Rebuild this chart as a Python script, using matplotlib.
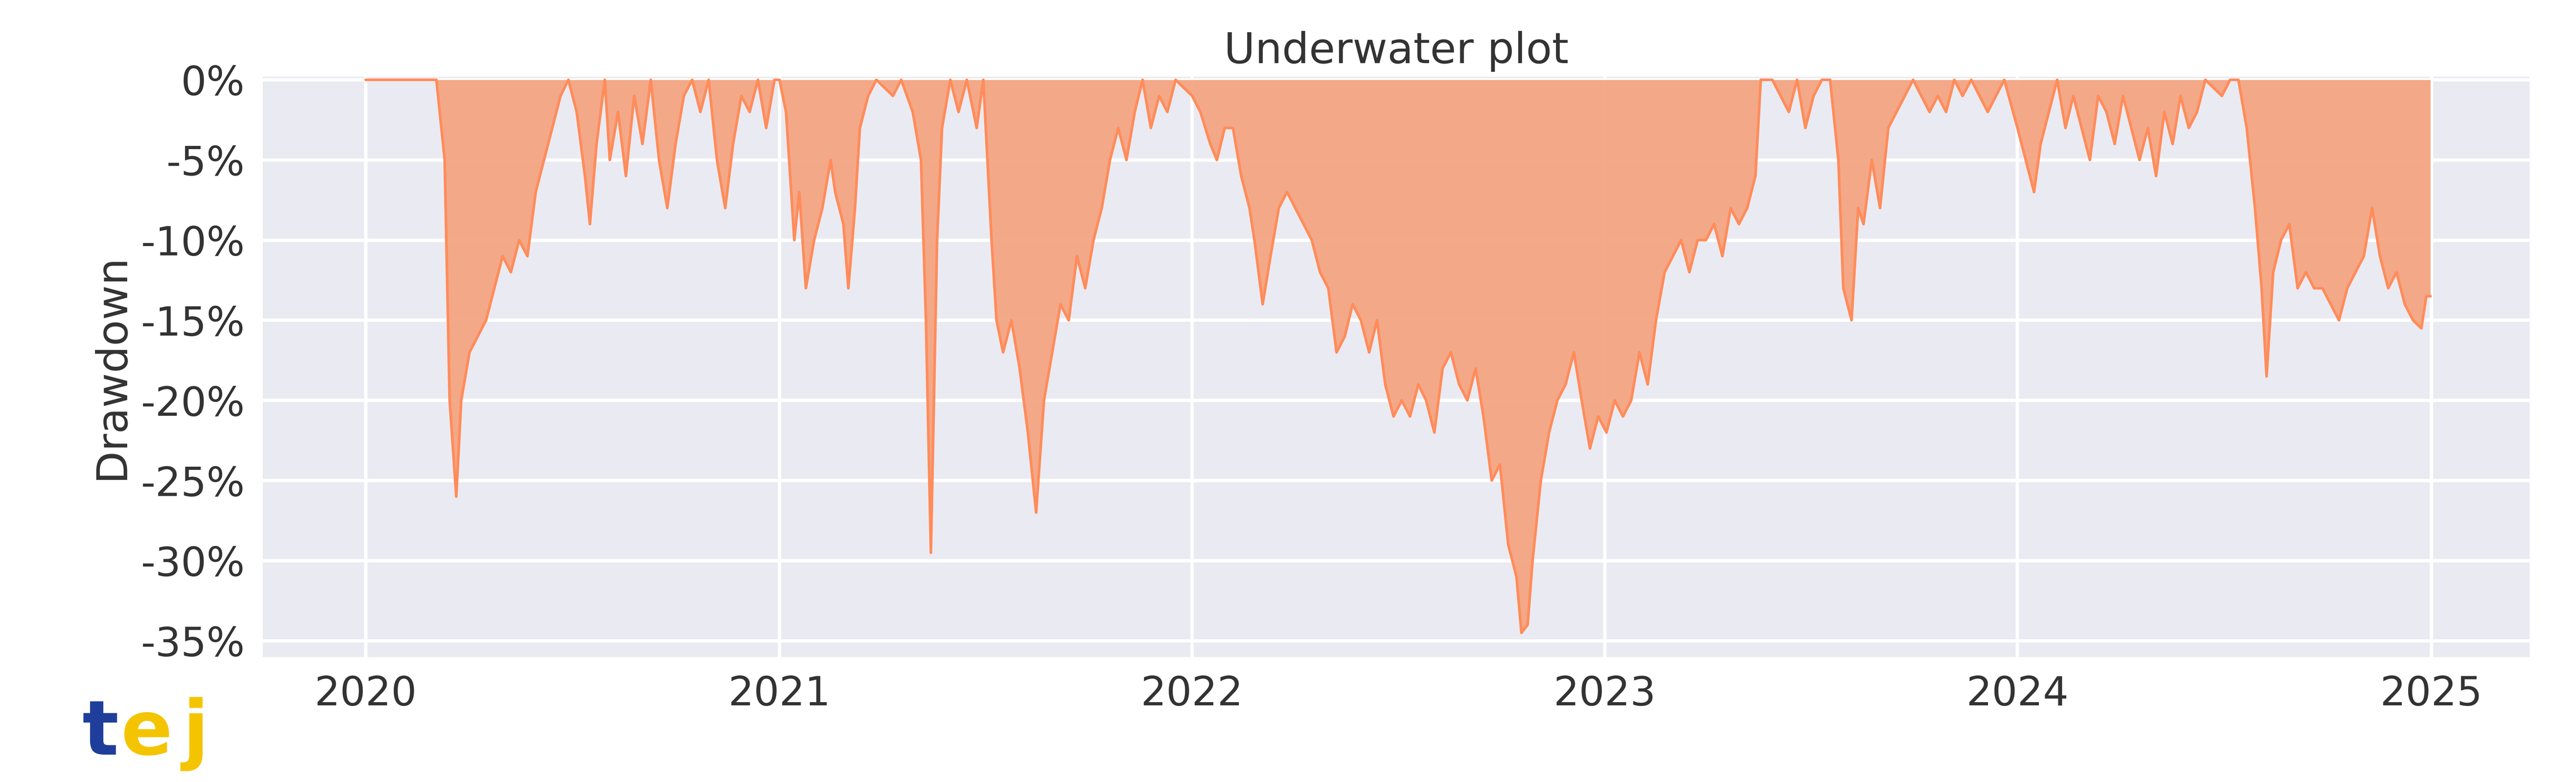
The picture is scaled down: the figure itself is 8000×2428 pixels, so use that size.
import numpy as np
import pandas as pd
import matplotlib.pyplot as plt
import matplotlib.ticker as mticker

plt.style.use("seaborn-v0_8-darkgrid")
plt.rcParams["font.family"] = ["DejaVu Sans"]

# --- drawdown readings: (year, fraction of year, drawdown %) ---
ans_2020 = [0.0, 0.171, 0.191, 0.203, 0.219, 0.231, 0.251, 0.271, 0.291, 0.311, 0.331, 0.351, 0.371, 0.391,
            0.411, 0.431, 0.451, 0.471, 0.490, 0.510, 0.530, 0.542, 0.558, 0.578, 0.590, 0.610, 0.629, 0.649,
            0.669, 0.689, 0.709, 0.729, 0.749, 0.769, 0.789, 0.809, 0.829, 0.849, 0.869, 0.888, 0.908, 0.928,
            0.948, 0.968, 0.988]
dd_2020 = [0, 0, -5, -20, -26, -20, -17, -16, -15, -13, -11, -12, -10, -11,
           -7, -5, -3, -1, 0, -2, -6, -9, -4, 0, -5, -2, -6, -1,
           -4, 0, -5, -8, -4, -1, 0, -2, 0, -5, -8, -4, -1, -2,
           0, -3, 0]

ans_2021 = [0.0, 0.016, 0.036, 0.048, 0.064, 0.084, 0.104, 0.124, 0.135, 0.155, 0.167, 0.183, 0.195, 0.215,
            0.235, 0.275, 0.295, 0.323, 0.343, 0.355, 0.367, 0.382, 0.394, 0.414, 0.434, 0.454, 0.478, 0.494,
            0.514, 0.526, 0.542, 0.562, 0.582, 0.602, 0.622, 0.641, 0.661, 0.681, 0.701, 0.721, 0.741, 0.761,
            0.781, 0.801, 0.821, 0.841, 0.861, 0.880, 0.900, 0.920, 0.940, 0.960]
dd_2021 = [0, -2, -10, -7, -13, -10, -8, -5, -7, -9, -13, -8, -3, -1,
           0, -1, 0, -2, -5, -15, -29.5, -10, -3, 0, -2, 0, -3, 0,
           -10, -15, -17, -15, -18, -22, -27, -20, -17, -14, -15, -11, -13, -10,
           -8, -5, -3, -5, -2, 0, -3, -1, -2, 0]

ans_2022 = [0.0, 0.020, 0.044, 0.060, 0.079, 0.099, 0.119, 0.139, 0.151, 0.171, 0.190, 0.210, 0.230, 0.250,
            0.270, 0.290, 0.310, 0.330, 0.350, 0.370, 0.389, 0.409, 0.429, 0.448, 0.468, 0.488, 0.508, 0.528,
            0.548, 0.567, 0.587, 0.607, 0.627, 0.647, 0.667, 0.687, 0.706, 0.726, 0.746, 0.766, 0.786, 0.798,
            0.813, 0.825, 0.845, 0.865, 0.885, 0.905, 0.925, 0.944, 0.964, 0.984]
dd_2022 = [-1, -2, -4, -5, -3, -3, -6, -8, -10, -14, -11, -8, -7, -8,
           -9, -10, -12, -13, -17, -16, -14, -15, -17, -15, -19, -21, -20, -21,
           -19, -20, -22, -18, -17, -19, -20, -18, -21, -25, -24, -29, -31, -34.5,
           -34, -30, -25, -22, -20, -19, -17, -20, -23, -21]

ans_2023 = [0.004, 0.024, 0.044, 0.064, 0.084, 0.104, 0.124, 0.145, 0.165, 0.185, 0.205, 0.225, 0.245, 0.265,
            0.285, 0.305, 0.325, 0.345, 0.365, 0.378, 0.406, 0.446, 0.466, 0.486, 0.506, 0.526, 0.546, 0.566,
            0.578, 0.598, 0.614, 0.627, 0.647, 0.667, 0.687, 0.707, 0.727, 0.747, 0.767, 0.787, 0.807, 0.827,
            0.847, 0.867, 0.888, 0.908, 0.928, 0.948, 0.968]
dd_2023 = [-22, -20, -21, -20, -17, -19, -15, -12, -11, -10, -12, -10, -10, -9,
           -11, -8, -9, -8, -6, 0, 0, -2, 0, -3, -1, 0, 0, -5,
           -13, -15, -8, -9, -5, -8, -3, -2, -1, 0, -1, -2, -1, -2,
           0, -1, 0, -1, -2, -1, 0]

ans_2024 = [0.0, 0.020, 0.040, 0.056, 0.076, 0.096, 0.116, 0.135, 0.155, 0.175, 0.195, 0.215, 0.235, 0.255,
            0.275, 0.295, 0.315, 0.335, 0.355, 0.375, 0.394, 0.414, 0.434, 0.454, 0.494, 0.514, 0.534, 0.554,
            0.574, 0.590, 0.602, 0.618, 0.637, 0.657, 0.677, 0.697, 0.717, 0.737, 0.757, 0.777, 0.797, 0.817,
            0.837, 0.857, 0.876, 0.896, 0.916, 0.936, 0.956, 0.976, 0.988, 0.998]
dd_2024 = [-3, -5, -7, -4, -2, 0, -3, -1, -3, -5, -1, -2, -4, -1,
           -3, -5, -3, -6, -2, -4, -1, -3, -2, 0, -1, 0, 0, -3,
           -8, -13, -18.5, -12, -10, -9, -13, -12, -13, -13, -14, -15, -13, -12,
           -11, -8, -11, -13, -12, -14, -15, -15.5, -13.5, -13.5]

years = [2020, 2021, 2022, 2023, 2024]
fracs = [ans_2020, ans_2021, ans_2022, ans_2023, ans_2024]
dds = [dd_2020, dd_2021, dd_2022, dd_2023, dd_2024]

dates, values = [], []
for y, fr, dd in zip(years, fracs, dds):
    start = pd.Timestamp(f"{y}-01-01")
    length = (pd.Timestamp(f"{y + 1}-01-01") - start).days
    dates += [start + pd.Timedelta(days=f * length) for f in fr]
    values += dd
drawdown = pd.Series(np.array(values) / 100, index=pd.DatetimeIndex(dates))

fig = plt.figure(figsize=(16, 4.856), dpi=500)
ax = fig.add_axes([0.102, 0.16, 0.88, 0.742])
ax.set_facecolor("#EAEAF2")

ax.fill_between(drawdown.index, drawdown.values, 0, color="#F4A582", alpha=0.95, linewidth=0)
ax.plot(drawdown.index, drawdown.values, color="#FF8C5A", linewidth=1.2)

ax.set_xlim(pd.Timestamp("2019-10-02"), pd.Timestamp("2025-03-29"))
ax.set_ylim(-0.36, 0.002)
ax.yaxis.set_major_locator(mticker.MultipleLocator(0.05))
ax.yaxis.set_major_formatter(mticker.FuncFormatter(lambda v, _: f"{v * 100:.0f}%"))
ax.xaxis.set_major_locator(plt.matplotlib.dates.YearLocator())
ax.xaxis.set_major_formatter(plt.matplotlib.dates.DateFormatter("%Y"))
ax.grid(True, color="white", linewidth=1.5)
ax.tick_params(labelsize=18, colors="#333333", length=0, pad=8)
ax.set_ylabel("Drawdown", fontsize=19, color="#333333")
ax.set_title("Underwater plot", fontsize=19, color="#333333", pad=6)

# logo
fig.text(0.032, 0.035, "t", fontsize=34, fontweight="bold", color="#1F3E9C")
fig.text(0.047, 0.035, "e", fontsize=34, fontweight="bold", color="#F5C400")
fig.text(0.071, 0.035, "j", fontsize=34, fontweight="bold", color="#F5C400")

fig.savefig("out.png", dpi=500, facecolor="white")
